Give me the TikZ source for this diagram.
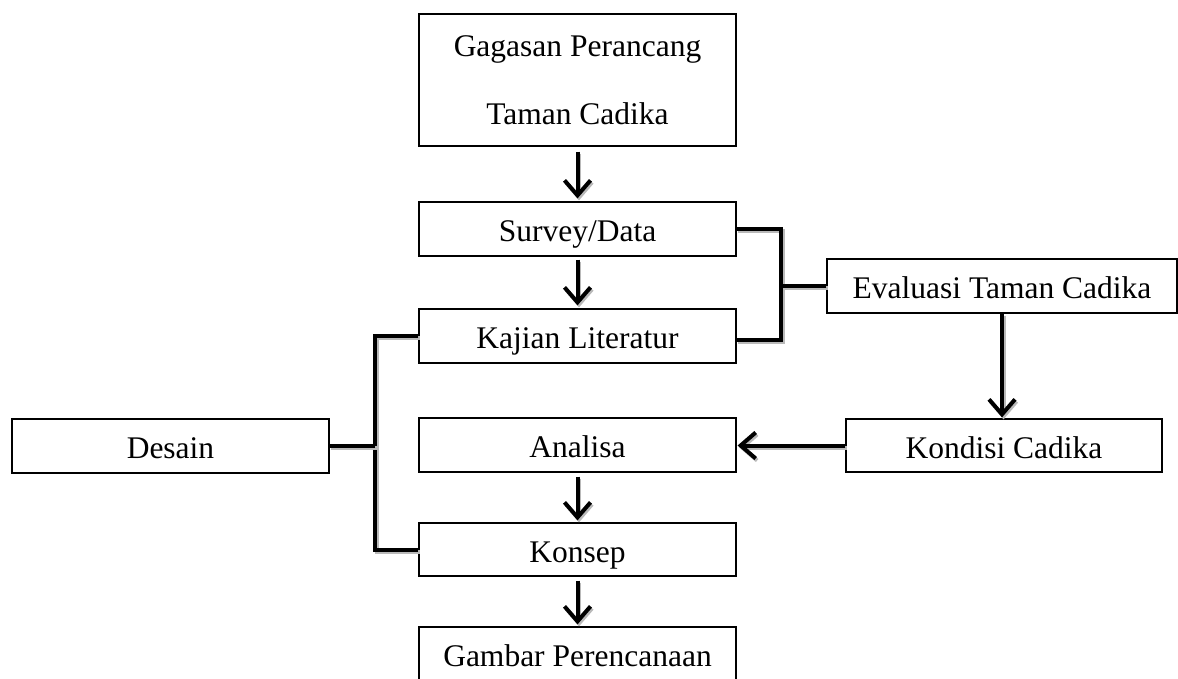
\documentclass[tikz,border=0pt]{standalone}
\usepackage{fontspec}
\setmainfont{Liberation Serif}
\usetikzlibrary{arrows.meta,shadows}
\newcommand\shadowdraw[2]{%
  \draw[#1, gray!55, transform canvas={shift={(1.5pt,-2pt)}}] #2;
  \draw[#1] #2;}
\begin{document}
\begin{tikzpicture}[x=1pt,y=-1pt,
  box/.style={draw=black, line width=1.2pt, fill=white, minimum height=54pt,
    minimum width=317pt, inner sep=0pt, font=\fontsize{31.5}{38}\selectfont,
    text height=28pt, text depth=3pt,
    drop shadow={shadow xshift=1.3pt, shadow yshift=-1.3pt, fill=gray, opacity=0.6}},
  conn/.style={line width=4pt},
  arr/.style={-{Straight Barb[length=15pt,width=26pt]}, line width=4pt}
]
\useasboundingbox (0,0) rectangle (1178,679);
\clip (0,0) rectangle (1178,679);

\node[box, minimum height=132pt, align=center, text height=, text depth=, font=\fontsize{31.5}{68}\selectfont] (top) at (577.5,80) {Gagasan Perancang\\Taman Cadika};
\node[box] (survey) at (577.5,229) {Survey/Data};
\node[box] (kajian) at (577.5,336) {Kajian Literatur};
\node[box, minimum width=350pt] (eval) at (1002,286) {Evaluasi Taman Cadika};
\node[box, minimum width=316pt, minimum height=53pt] (kondisi) at (1004,445.5) {Kondisi Cadika};
\node[box] (analisa) at (577.5,445) {Analisa};
\node[box] (desain) at (170.5,446) {Desain};
\node[box, minimum height=53pt] (konsep) at (577.5,549.5) {Konsep};
\node[box] (gambar) at (577.5,654) {Gambar Perencanaan};

\coordinate (rb) at (781,0);
\coordinate (lb) at (375,0);

% right bracket
\shadowdraw{conn}{(survey.east) -- (survey.east -| rb) -- ([yshift=-4pt]kajian.east -| rb) -- ([yshift=-4pt]kajian.east)}
\shadowdraw{conn}{(eval.west) -- (eval.west -| rb)}

% left bracket
\shadowdraw{conn}{(kajian.west) -- (kajian.west -| lb) -- (konsep.west -| lb) -- (konsep.west)}
\shadowdraw{conn}{(desain.east) -- (desain.east -| lb)}

% arrows
\shadowdraw{arr, shorten >=3pt}{([yshift=-5pt]top.south) -- (survey.north)}
\shadowdraw{arr, shorten >=3pt}{([yshift=-3pt]survey.south) -- (kajian.north)}
\shadowdraw{arr, shorten >=1pt}{(eval.south) -- (eval.south |- kondisi.north)}
\shadowdraw{arr, shorten >=1pt}{(kondisi.west) -- (kondisi.west -| analisa.east)}
\shadowdraw{arr, shorten >=2pt}{([yshift=-4pt]analisa.south) -- (konsep.north)}
\shadowdraw{arr, shorten >=2pt}{([yshift=-4pt]konsep.south) -- (gambar.north)}
\end{tikzpicture}
\end{document}
